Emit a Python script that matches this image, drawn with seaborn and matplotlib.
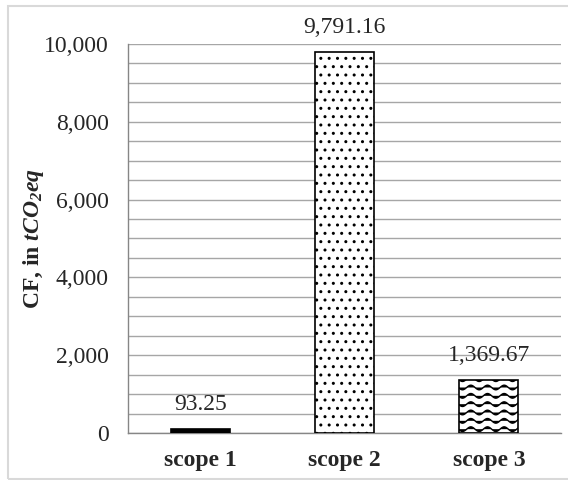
import warnings
import numpy as np
import pandas as pd
import matplotlib
matplotlib.use("Agg")
import matplotlib.pyplot as plt
import matplotlib.hatch as mhatch
from matplotlib.patches import Rectangle
from matplotlib.ticker import MultipleLocator, FuncFormatter
import seaborn as sns

warnings.filterwarnings("ignore")

# Data
scopes = ["scope 1", "scope 2", "scope 3"]
cf_values = [93.25, 9791.16, 1369.67]
bar_hatches = ["", "..", "w"]
bar_faces = ["black", "white", "white"]


# Wavy hatch (not built into matplotlib)
class WaveHatch(mhatch.HatchPatternBase):
    def __init__(self, hatch, density):
        self.num_lines = int(hatch.count("w") * density * 2)
        self.n_pts = 121
        self.num_vertices = self.num_lines * self.n_pts

    def set_vertices_and_codes(self, vertices, codes):
        xs = np.linspace(0, 1, self.n_pts)
        step = 1.0 / self.num_lines
        for i in range(self.num_lines):
            ys = (i + 0.5) * step + 0.28 * step * np.sin(2 * np.pi * 6 * xs)
            sl = slice(i * self.n_pts, (i + 1) * self.n_pts)
            vertices[sl, 0] = xs
            vertices[sl, 1] = ys
            codes[sl] = mhatch.Path.LINETO
            codes[i * self.n_pts] = mhatch.Path.MOVETO


mhatch._hatch_types.append(WaveHatch)

sns.set_style("white")
plt.rcParams["font.family"] = ["Liberation Serif", "DejaVu Serif"]
plt.rcParams["mathtext.fontset"] = "custom"
plt.rcParams["mathtext.it"] = "Liberation Serif:italic:bold"
plt.rcParams["mathtext.rm"] = "Liberation Serif:italic:bold"
plt.rcParams["hatch.linewidth"] = 1.0

df = pd.DataFrame({"scope": scopes, "cf": cf_values})

fig = plt.figure(figsize=(5.68, 4.8), dpi=100)
ax = fig.add_axes([128 / 568, 1 - 433 / 480, (561 - 128) / 568, (433 - 44) / 480])

sns.barplot(data=df, x="scope", y="cf", color="white", width=0.41,
            edgecolor="black", linewidth=1.2, ax=ax, zorder=3)

for patch, h, fc in zip(ax.patches, bar_hatches, bar_faces):
    patch.set_hatch(h)
    patch.set_facecolor(fc)
    patch.set_edgecolor("black")

ax.bar_label(ax.containers[0], labels=[f"{v:,.2f}" for v in cf_values],
             padding=10, fontsize=17)

ax.set_xlim(-0.5, 2.5)
ax.set_ylim(0, 10000)
ax.yaxis.set_major_locator(MultipleLocator(2000))
ax.yaxis.set_minor_locator(MultipleLocator(500))
ax.yaxis.set_major_formatter(FuncFormatter(lambda v, p: f"{v:,.0f}"))
ax.set_xticks([-0.5, 0.5, 1.5, 2.5], minor=True)

ax.grid(True, axis="y", which="both", color="#a6a6a6", linewidth=1.0, zorder=0)
ax.grid(False, axis="x", which="both")
ax.set_axisbelow(True)

for side in ["top", "right"]:
    ax.spines[side].set_visible(False)
for side in ["left", "bottom"]:
    ax.spines[side].set_color("#868686")
    ax.spines[side].set_linewidth(1.0)

ax.tick_params(axis="y", which="major", length=5, width=1, color="#868686",
               direction="out", labelsize=17, pad=9)
ax.tick_params(axis="y", which="minor", length=0)
ax.tick_params(axis="x", which="major", length=0, labelsize=17, pad=12)
ax.tick_params(axis="x", which="minor", length=4, width=1, color="#868686",
               direction="out")
for lbl in ax.get_xticklabels():
    lbl.set_fontweight("bold")

ax.set_xlabel("")
ax.set_ylabel(r"CF, in $tCO_2eq$", fontsize=17, fontweight="bold")
ax.yaxis.set_label_coords(-0.19, 0.5)

# light grey chart-area border
fig.patches.append(Rectangle((8 / 568, 1 / 480), 1.0, 473 / 480,
                             transform=fig.transFigure, fill=False,
                             edgecolor="#d9d9d9", linewidth=1.5))

fig.savefig("out.png", dpi=100)
